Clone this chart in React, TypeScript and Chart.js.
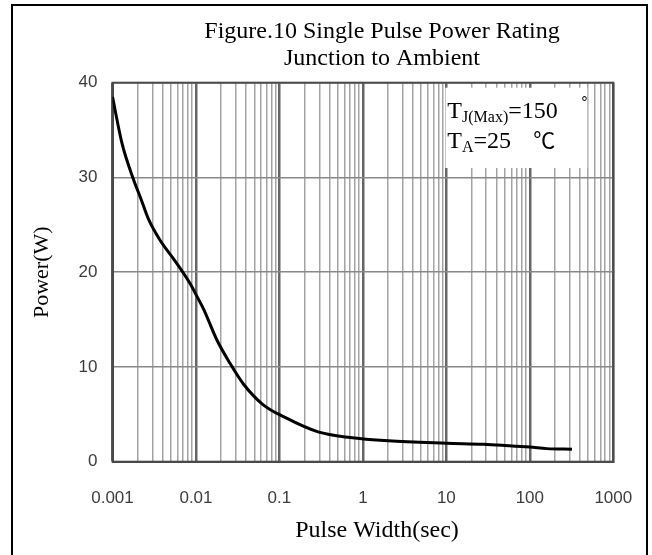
import React, { useEffect, useRef } from 'react';
import { Chart, registerables } from 'chart.js';

Chart.register(...registerables);

// ---- data ----
const pulseWidth = [0.001, 0.0013, 0.00175, 0.0022, 0.0027, 0.0037, 0.0056, 0.0085, 0.0102, 0.0125, 0.0177, 0.0255, 0.037, 0.064, 0.115, 0.29, 0.7, 2, 10, 28, 50, 100, 160, 320];
const powerW = [38.5, 33.6, 30.0, 27.7, 25.6, 23.4, 21.2, 18.8, 17.5, 16.0, 12.9, 10.4, 8.2, 6.0, 4.7, 3.15, 2.55, 2.2, 1.95, 1.84, 1.72, 1.55, 1.38, 1.32];

const decadeTicks = [0.001, 0.01, 0.1, 1, 10, 100, 1000];
const decadeLabels = ['0.001', '0.01', '0.1', '1', '10', '100', '1000'];
const minorMultipliers = [1, 2, 3, 4, 5, 6, 7, 8, 9];
const powerMin = 0;
const powerMax = 40;
const powerStep = 10;

const titleLines = ['Figure.10 Single Pulse Power Rating', 'Junction to Ambient'];
const xTitle = 'Pulse Width(sec)';
const yTitle = 'Power(W)';
const noteLine1 = [
  { t: 'T', sub: false },
  { t: 'J(Max)', sub: true },
  { t: '=150', sub: false },
];
const noteLine2 = [
  { t: 'T', sub: false },
  { t: 'A', sub: true },
  { t: '=25', sub: false },
];
const degreeMark = '°';
const celsiusMark = '℃';

const SERIF = '"Liberation Serif", "Times New Roman", Times, serif';
const SANS = '"Liberation Sans", Arial, Helvetica, sans-serif';

function drawRuns(ctx: CanvasRenderingContext2D, runs: { t: string; sub: boolean }[], x: number, y: number) {
  let cx = x;
  for (const r of runs) {
    ctx.font = r.sub ? `16px ${SERIF}` : `24px ${SERIF}`;
    ctx.fillText(r.t, cx, r.sub ? y + 4 : y);
    cx += ctx.measureText(r.t).width;
  }
  return cx;
}

const decorPlugin = {
  id: 'decor',
  beforeDraw(chart: any) {
    const { ctx, width, height } = chart;
    ctx.save();
    ctx.fillStyle = '#ffffff';
    ctx.fillRect(0, 0, width, height);
    ctx.restore();
  },
  beforeDatasetsDraw(chart: any) {
    const { ctx, chartArea } = chart;
    const xs = chart.scales.x;
    const ys = chart.scales.y;
    ctx.save();
    // plot border
    ctx.strokeStyle = '#4a4a4a';
    ctx.lineWidth = 2;
    ctx.strokeRect(chartArea.left, chartArea.top, chartArea.right - chartArea.left, chartArea.bottom - chartArea.top);
    // annotation box
    const bx = xs.getPixelForValue(10) - 1;
    const by = chartArea.top + 5;
    const bw = chartArea.right - 26 - bx;
    const bh = ys.getPixelForValue(31) - by;
    ctx.fillStyle = '#ffffff';
    ctx.fillRect(bx, by, bw, bh);
    ctx.fillStyle = '#000000';
    ctx.textAlign = 'left';
    ctx.textBaseline = 'alphabetic';
    drawRuns(ctx, noteLine1, bx + 2, by + 30);
    ctx.font = `16px ${SANS}`;
    ctx.fillText(degreeMark, bx + bw - 6, by + 20);
    drawRuns(ctx, noteLine2, bx + 2, by + 60);
    ctx.font = `22px "Noto Sans CJK SC", "DejaVu Sans", sans-serif`;
    ctx.fillText(celsiusMark, bx + 88, by + 60);
    ctx.restore();
  },
  afterDraw(chart: any) {
    const { ctx, chartArea } = chart;
    ctx.save();
    // outer frame
    ctx.strokeStyle = '#000000';
    ctx.lineWidth = 2;
    ctx.strokeRect(12, 5, 635, 560);
    // titles
    ctx.fillStyle = '#000000';
    ctx.textAlign = 'center';
    ctx.textBaseline = 'alphabetic';
    ctx.font = `24px ${SERIF}`;
    const tcx = 382;
    ctx.fillText(titleLines[0], tcx, 38);
    ctx.fillText(titleLines[1], tcx, 65);
    ctx.fillText(xTitle, 377, 537);
    ctx.translate(48, (chartArea.top + chartArea.bottom) / 2);
    ctx.rotate(-Math.PI / 2);
    ctx.font = `22px ${SERIF}`;
    ctx.fillText(yTitle, 0, 0);
    ctx.restore();
  },
};

export default function App() {
  const canvasRef = useRef<HTMLCanvasElement | null>(null);

  useEffect(() => {
    document.body.style.margin = '0';
    const canvas = canvasRef.current;
    if (!canvas) return;
    const chart = new Chart(canvas, {
      type: 'line',
      data: {
        datasets: [
          {
            label: 'Power',
            data: pulseWidth.map((x, i) => ({ x, y: powerW[i] })),
            borderColor: '#000000',
            borderWidth: 3,
            pointRadius: 0,
            fill: false,
            cubicInterpolationMode: 'monotone',
          },
        ],
      },
      options: {
        animation: false,
        responsive: false,
        devicePixelRatio: 1,
        layout: { padding: { left: 12, right: 38.7, top: 82.7, bottom: 0 } },
        plugins: {
          legend: { display: false },
          title: { display: false },
          tooltip: { enabled: false },
        },
        scales: {
          x: {
            type: 'logarithmic',
            min: decadeTicks[0],
            max: decadeTicks[decadeTicks.length - 1],
            afterBuildTicks: (scale: any) => {
              const t: any[] = [];
              decadeTicks.forEach((d, di) => {
                if (di === decadeTicks.length - 1) {
                  t.push({ value: d, major: true });
                  return;
                }
                minorMultipliers.forEach((m) => t.push({ value: d * m, major: m === 1 }));
              });
              scale.ticks = t;
            },
            afterFit: (scale: any) => {
              scale.height = 555 - 461.7;
              scale.paddingLeft = 0;
              scale.paddingRight = 0;
            },
            ticks: {
              autoSkip: false,
              maxRotation: 0,
              minRotation: 0,
              padding: 26,
              color: '#3c3c3c',
              font: { family: SANS, size: 17 },
              callback: (value: any) => {
                const i = decadeTicks.findIndex((d) => Math.abs(d - value) / d < 1e-6);
                return i >= 0 ? decadeLabels[i] : '';
              },
            },
            grid: {
              drawTicks: false,
              color: (c: any) => (c.tick && c.tick.major ? '#666666' : '#a3a3a3'),
              lineWidth: (c: any) => (c.tick && c.tick.major ? 2.5 : 1.5),
            },
            border: { color: '#4a4a4a', width: 2 },
          },
          y: {
            type: 'linear',
            min: powerMin,
            max: powerMax,
            afterFit: (scale: any) => {
              scale.width = 112.5 - 12;
              scale.paddingTop = 0;
              scale.paddingBottom = 0;
            },
            ticks: {
              stepSize: powerStep,
              padding: 15,
              color: '#3c3c3c',
              font: { family: SANS, size: 17 },
            },
            grid: {
              drawTicks: false,
              color: '#888888',
              lineWidth: 1.5,
            },
            border: { color: '#4a4a4a', width: 2 },
          },
        },
      },
      plugins: [decorPlugin],
    } as any);
    return () => chart.destroy();
  }, []);

  return (
    <div style={{ position: 'absolute', left: 0, top: 0, width: 652, height: 555 }}>
      <canvas ref={canvasRef} width={652} height={555} style={{ display: 'block', width: 652, height: 555 }} />
    </div>
  );
}
